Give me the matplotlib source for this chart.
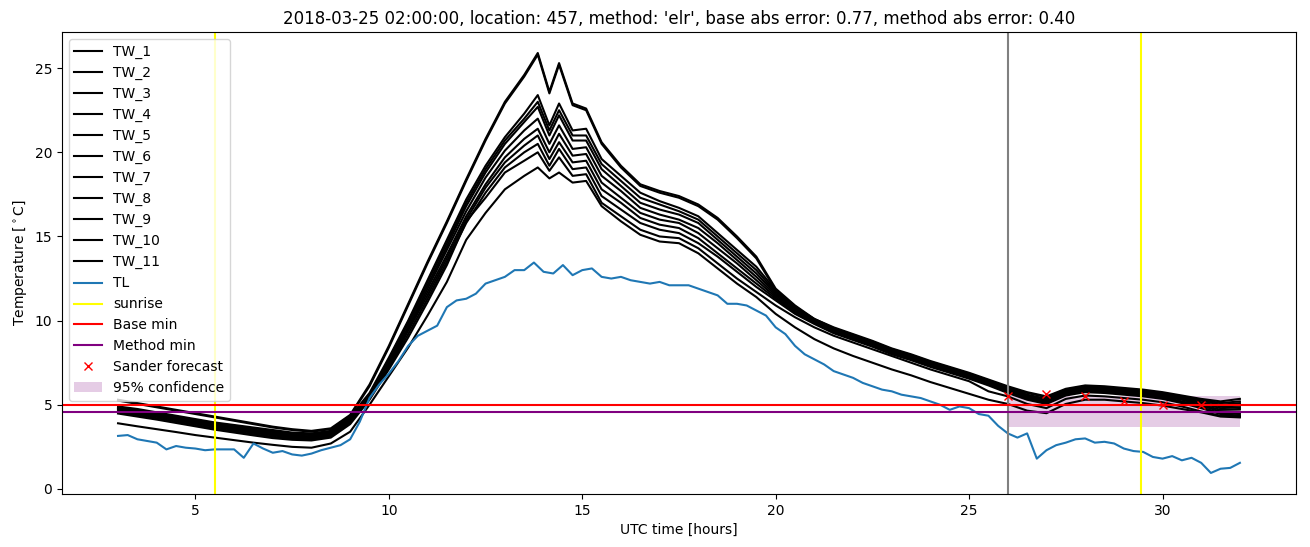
import numpy as np
import matplotlib
matplotlib.use("Agg")
import matplotlib.pyplot as plt  # noqa: E402

# time grid of the TW sensors [hours UTC]
tw_time = [3.0, 3.5, 4.0, 4.5, 5.0, 5.5, 6.0, 6.5, 7.0, 7.5, 8.0, 8.5, 9.0,
           9.5, 10.0, 10.5, 11.0, 11.5, 12.0, 12.5, 13.0, 13.5,
           13.85, 14.15, 14.4, 14.75, 15.1,
           15.5, 16.0, 16.5, 17.0, 17.5, 18.0, 18.5, 19.0, 19.5, 20.0, 20.5,
           21.0, 21.5, 22.0, 22.5, 23.0, 23.5, 24.0, 24.5, 25.0, 25.5,
           26.0, 26.5, 27.0, 27.5, 28.0, 28.5, 29.0, 29.5, 30.0, 30.5, 31.0, 31.5, 32.0]

tw_1 = [5.30, 5.10, 4.90, 4.70, 4.50, 4.30, 4.10, 3.90, 3.70, 3.55, 3.45, 3.60, 4.40,
        6.2, 8.5, 11.0, 13.5, 15.9, 18.4, 20.8, 23.0, 24.6,
        25.9, 23.6, 25.3, 22.9, 22.6,
        20.6, 19.2, 18.1, 17.7, 17.4, 16.9, 16.1, 15.0, 13.8, 11.9, 10.9, 10.1, 9.6, 9.2, 8.8, 8.35, 8.0, 7.6, 7.25, 6.9, 6.5,
        6.10, 5.75, 5.50, 5.95, 6.15, 6.10, 6.00, 5.90, 5.75, 5.55, 5.35, 5.20, 5.35]
tw_2 = [5.25, 5.05, 4.85, 4.65, 4.45, 4.25, 4.05, 3.85, 3.65, 3.50, 3.40, 3.55, 4.35,
        6.1, 8.4, 10.9, 13.4, 15.8, 18.3, 20.7, 22.9, 24.5,
        25.8, 23.5, 25.2, 22.8, 22.5,
        20.5, 19.1, 18.0, 17.6, 17.3, 16.8, 16.0, 14.9, 13.7, 11.8, 10.85, 10.05, 9.55, 9.15, 8.75, 8.3, 7.95, 7.55, 7.2, 6.85, 6.45,
        6.05, 5.70, 5.45, 5.90, 6.10, 6.05, 5.95, 5.85, 5.70, 5.50, 5.30, 5.10, 5.20]
tw_3 = [4.90, 4.75, 4.55, 4.35, 4.15, 3.95, 3.80, 3.65, 3.50, 3.35, 3.30, 3.45, 4.30,
        5.7, 7.8, 10.0, 12.4, 14.8, 17.2, 19.2, 20.9, 22.3,
        23.4, 21.6, 22.9, 21.3, 21.4,
        19.6, 18.6, 17.6, 17.1, 16.7, 16.2, 15.2, 14.2, 13.2, 11.8, 10.8, 10.1, 9.55, 9.15, 8.75, 8.3, 7.95, 7.55, 7.2, 6.85, 6.45,
        6.00, 5.60, 5.35, 5.85, 6.05, 6.00, 5.90, 5.80, 5.65, 5.45, 5.25, 5.00, 5.10]
tw_4 = [4.85, 4.70, 4.50, 4.30, 4.10, 3.90, 3.75, 3.60, 3.45, 3.30, 3.25, 3.40, 4.25,
        5.6, 7.7, 9.9, 12.3, 14.6, 17.0, 19.0, 20.7, 22.0,
        23.0, 21.3, 22.5, 21.0, 21.0,
        19.3, 18.3, 17.3, 16.9, 16.5, 16.0, 15.0, 14.0, 13.0, 11.7, 10.75, 10.05, 9.5, 9.1, 8.7, 8.25, 7.9, 7.5, 7.15, 6.8, 6.4,
        5.95, 5.55, 5.30, 5.80, 6.00, 5.95, 5.85, 5.75, 5.60, 5.40, 5.15, 4.90, 4.95]
tw_5 = [4.80, 4.62, 4.45, 4.25, 4.05, 3.85, 3.68, 3.52, 3.38, 3.25, 3.20, 3.35, 4.20,
        5.6, 7.6, 9.8, 12.1, 14.4, 16.8, 18.8, 20.5, 21.8,
        22.7, 21.0, 22.2, 20.7, 20.7,
        19.0, 18.0, 17.0, 16.6, 16.3, 15.8, 14.8, 13.8, 12.8, 11.6, 10.7, 10.0, 9.45, 9.05, 8.65, 8.2, 7.85, 7.45, 7.1, 6.75, 6.35,
        5.90, 5.50, 5.25, 5.75, 5.95, 5.90, 5.80, 5.70, 5.55, 5.35, 5.10, 4.80, 4.85]
tw_6 = [4.75, 4.58, 4.40, 4.20, 4.00, 3.80, 3.62, 3.45, 3.30, 3.18, 3.12, 3.30, 4.15,
        5.5, 7.5, 9.6, 11.9, 14.2, 16.5, 18.5, 20.1, 21.3,
        22.0, 20.5, 21.6, 20.2, 20.3,
        18.6, 17.7, 16.7, 16.3, 16.0, 15.5, 14.6, 13.6, 12.6, 11.5, 10.6, 9.95, 9.4, 9.0, 8.6, 8.15, 7.8, 7.4, 7.05, 6.7, 6.3,
        5.85, 5.45, 5.20, 5.70, 5.90, 5.85, 5.75, 5.65, 5.50, 5.30, 5.00, 4.70, 4.75]
tw_7 = [4.70, 4.52, 4.35, 4.15, 3.95, 3.75, 3.58, 3.40, 3.25, 3.12, 3.08, 3.25, 4.10,
        5.5, 7.4, 9.5, 11.7, 13.9, 16.2, 18.1, 19.7, 20.8,
        21.4, 20.0, 21.1, 19.8, 19.9,
        18.2, 17.3, 16.4, 16.0, 15.8, 15.2, 14.3, 13.4, 12.4, 11.4, 10.5, 9.9, 9.35, 8.95, 8.55, 8.1, 7.75, 7.35, 7.0, 6.65, 6.25,
        5.80, 5.40, 5.15, 5.65, 5.85, 5.80, 5.70, 5.60, 5.45, 5.20, 4.95, 4.60, 4.60]
tw_8 = [4.62, 4.45, 4.28, 4.08, 3.88, 3.68, 3.50, 3.33, 3.18, 3.05, 3.02, 3.20, 4.05,
        5.4, 7.3, 9.4, 11.5, 13.7, 16.0, 17.9, 19.4, 20.4,
        21.0, 19.6, 20.6, 19.4, 19.5,
        17.8, 17.0, 16.1, 15.7, 15.5, 14.9, 14.0, 13.1, 12.2, 11.3, 10.45, 9.85, 9.3, 8.9, 8.5, 8.05, 7.7, 7.3, 6.95, 6.6, 6.2,
        5.75, 5.35, 5.10, 5.60, 5.80, 5.75, 5.65, 5.55, 5.40, 5.15, 4.85, 4.50, 4.45]
tw_9 = [4.55, 4.38, 4.20, 4.00, 3.80, 3.60, 3.42, 3.25, 3.10, 2.98, 2.95, 3.12, 3.95,
        5.4, 7.2, 9.2, 11.3, 13.5, 15.8, 17.6, 19.1, 20.0,
        20.5, 19.2, 20.2, 19.0, 19.1,
        17.4, 16.6, 15.8, 15.4, 15.2, 14.6, 13.8, 12.9, 12.0, 11.2, 10.4, 9.8, 9.25, 8.85, 8.45, 8.0, 7.65, 7.25, 6.9, 6.55, 6.15,
        5.70, 5.30, 5.05, 5.55, 5.75, 5.70, 5.60, 5.50, 5.35, 5.10, 4.80, 4.45, 4.35]
tw_10 = [4.48, 4.30, 4.12, 3.92, 3.72, 3.52, 3.35, 3.18, 3.02, 2.92, 2.88, 3.05, 3.85,
         5.3, 7.1, 9.0, 11.1, 13.3, 15.9, 17.3, 18.8, 19.5,
         20.0, 18.9, 19.7, 18.6, 18.7,
         17.0, 16.2, 15.4, 15.0, 14.9, 14.3, 13.4, 12.5, 11.7, 10.9, 10.2, 9.6, 9.1, 8.7, 8.3, 7.9, 7.5, 7.1, 6.75, 6.4, 5.8,
         5.50, 5.05, 4.80, 5.35, 5.55, 5.50, 5.40, 5.30, 5.15, 4.90, 4.60, 4.35, 4.30]
tw_11 = [3.90, 3.72, 3.55, 3.38, 3.20, 3.05, 2.90, 2.75, 2.62, 2.50, 2.45, 2.70, 3.40,
         5.0, 6.7, 8.4, 10.3, 12.3, 14.8, 16.4, 17.8, 18.6,
         19.1, 18.45, 18.8, 18.2, 18.3,
         16.8, 15.9, 15.1, 14.7, 14.6, 14.0, 13.1, 12.2, 11.4, 10.4, 9.6, 8.9, 8.35, 7.9, 7.5, 7.1, 6.75, 6.35, 6.0, 5.65, 5.3,
         5.05, 4.65, 4.50, 5.05, 5.30, 5.30, 5.20, 5.10, 4.95, 4.75, 4.55, 4.30, 4.25]

# air temperature, 15 min resolution
tl_time = np.arange(3.0, 32.01, 0.25)
tl = [3.15, 3.20, 2.95, 2.85,
      2.75, 2.35, 2.55, 2.45,
      2.40, 2.30, 2.35, 2.35,
      2.35, 1.85, 2.70, 2.40,
      2.15, 2.25, 2.05, 1.98,
      2.10, 2.30, 2.45, 2.60,
      2.95, 4.00, 5.40, 6.20,
      6.85, 7.60, 8.50, 9.10,
      9.40, 9.70, 10.80, 11.20,
      11.30, 11.60, 12.20, 12.40,
      12.60, 13.00, 13.00, 13.45,
      12.90, 12.80, 13.30, 12.70,
      13.00, 13.10, 12.60, 12.50,
      12.60, 12.40, 12.30, 12.20,
      12.30, 12.10, 12.10, 12.10,
      11.90, 11.70, 11.50, 11.00,
      11.00, 10.90, 10.60, 10.30,
      9.60, 9.20, 8.50, 8.00,
      7.70, 7.40, 7.00, 6.80,
      6.60, 6.30, 6.10, 5.90,
      5.80, 5.60, 5.50, 5.40,
      5.20, 5.00, 4.70, 4.90,
      4.80, 4.45, 4.35, 3.75,
      3.30, 3.05, 3.30, 1.80,
      2.30, 2.60, 2.75, 2.95,
      3.00, 2.75, 2.80, 2.70,
      2.40, 2.25, 2.20, 1.90,
      1.80, 1.95, 1.70, 1.85,
      1.55, 0.95, 1.20, 1.25,
      1.55]

sunrise = [5.5, 29.45]
forecast_start = 26.0
base_min = 5.0
method_min = 4.6

sander_time = [26, 27, 28, 29, 30, 31]
sander_temp = [5.55, 5.65, 5.5, 5.25, 5.0, 5.0]

conf_time = [26.0, 32.0]
conf_low = 3.7
conf_high = 5.55

title = ("2018-03-25 02:00:00, location: 457, method: 'elr', "
         "base abs error: 0.77, method abs error: 0.40")


def main():
    fig, ax = plt.subplots(figsize=(13.1, 5.47), dpi=100)
    fig.subplots_adjust(left=0.0473, right=0.9893, bottom=0.097, top=0.9415)

    tw_all = [tw_1, tw_2, tw_3, tw_4, tw_5, tw_6, tw_7, tw_8, tw_9, tw_10, tw_11]
    for i, tw in enumerate(tw_all):
        ax.plot(tw_time, tw, color="black", label=f"TW_{i + 1}")

    ax.plot(tl_time, tl, color="C0", label="TL")

    ax.axvline(sunrise[0], color="yellow", label="sunrise")
    ax.axvline(sunrise[1], color="yellow")
    ax.axvline(forecast_start, color="grey")

    ax.axhline(base_min, color="red", label="Base min")
    ax.axhline(method_min, color="purple", label="Method min")

    ax.plot(sander_time, sander_temp, "rx", label="Sander forecast")
    ax.fill_between(conf_time, conf_low, conf_high, color="purple", alpha=0.2,
                    linewidth=0, label="95% confidence")

    ax.set_xlabel("UTC time [hours]")
    ax.set_ylabel(r"Temperature [$^\circ$C]")
    ax.set_title(title)
    ax.legend(loc="upper left")

    fig.savefig("out.png", dpi=100)
    plt.close(fig)


if __name__ == "__main__":
    main()
